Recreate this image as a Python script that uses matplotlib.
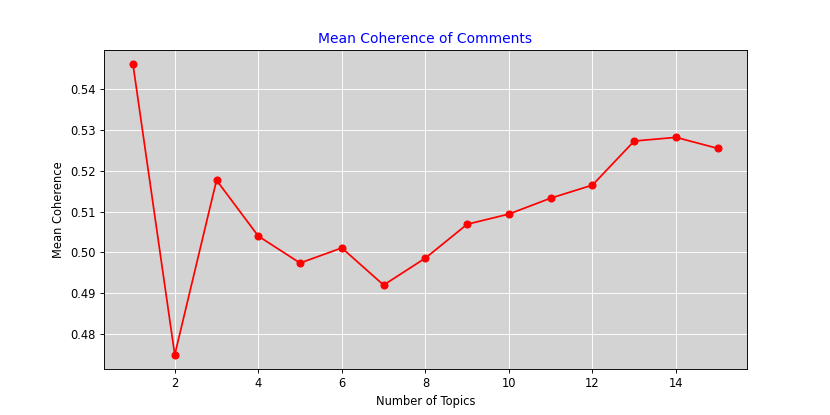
import numpy as np
import matplotlib
matplotlib.use("Agg")
import matplotlib.pyplot as plt

# number of topics vs mean coherence
num_topics = list(range(1, 16))
mean_coherence = [0.5461, 0.4749, 0.5177, 0.5040, 0.4974, 0.5011, 0.4920, 0.4986,
                  0.5069, 0.5094, 0.5133, 0.5165, 0.5273, 0.5282, 0.5255]

fig = plt.figure(figsize=(10, 5), dpi=83)
ax = fig.add_subplot(111)
ax.set_facecolor('lightgray')
ax.plot(num_topics, mean_coherence, marker='o', color='red')
ax.grid(True, color='white')
ax.set_axisbelow(True)
ax.set_title('Mean Coherence of Comments', color='blue')
ax.set_xlabel('Number of Topics')
ax.set_ylabel('Mean Coherence')

fig.savefig("out.png", dpi=83)
